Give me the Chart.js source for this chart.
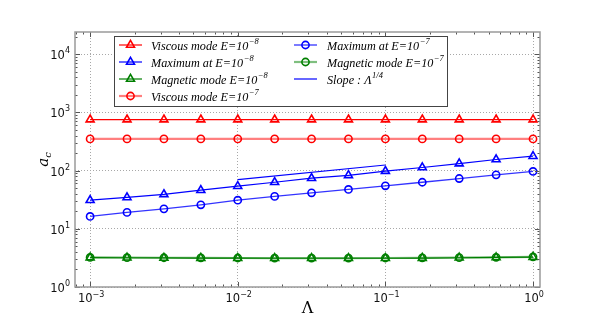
<!DOCTYPE html>
<html><head><meta charset="utf-8">
<script src="https://cdn.jsdelivr.net/npm/chart.js@4/dist/chart.umd.min.js"></script>
<style>html,body{margin:0;padding:0;background:#fff}</style>
</head><body>
<canvas id="c" width="600" height="320"></canvas>
<script>
// ---- data ----
const lambdaValues = [0.001, 0.001778, 0.003162, 0.005623, 0.01, 0.01778, 0.03162, 0.05623, 0.1, 0.1778, 0.3162, 0.5623, 1.0];
const viscousE8  = [750, 750, 750, 750, 750, 750, 750, 750, 750, 750, 750, 750, 750];
const maximumE8  = [31, 34.6, 39, 46, 54, 63, 74, 83, 98, 113, 132, 155, 177];
const magneticE8 = [3.2, 3.18, 3.16, 3.14, 3.13, 3.12, 3.12, 3.12, 3.12, 3.14, 3.18, 3.22, 3.27];
const viscousE7  = [350, 350, 350, 350, 350, 350, 350, 350, 350, 350, 350, 350, 350];
const maximumE7  = [16.3, 19.1, 22, 25.8, 31, 36, 41.5, 47.4, 54.7, 63, 73, 84.4, 96.6];
const magneticE7 = [3.22, 3.2, 3.18, 3.16, 3.15, 3.14, 3.14, 3.14, 3.15, 3.17, 3.2, 3.24, 3.3];
const slopeX = [0.01, 0.1];
const slopeY = [70, 124.5];
const xTickValues = [0.001, 0.01, 0.1, 1];
const xTickExps = ["−3", "−2", "−1", "0"];
const yTickValues = [1, 10, 100, 1000, 10000];
const yTickExps = ["0", "1", "2", "3", "4"];
const legendTexts = ["Viscous mode E=10", "Maximum at E=10", "Magnetic mode E=10", "Viscous mode E=10", "Maximum at E=10", "Magnetic mode E=10", "Slope : Λ"];
const legendExps = ["−8", "−8", "−8", "−7", "−7", "−7", "1/4"];
const xTitle = "Λ";
const yTitleMain = "a";
const yTitleSub = "c";

const sup = {"−":"⁻","0":"⁰","1":"¹","2":"²","3":"³","4":"⁴","7":"⁷","8":"⁸","/":"ᐟ"};
const toSup = s => s.split("").map(c => sup[c] || c).join("");

function pts(xs, ys){ return xs.map((x,i)=>({x:x, y:ys[i]})); }

function ds(label, data, line, marker, style, lw){
  return {label, data, borderColor: line, borderWidth: lw, pointBorderColor: marker,
    pointBackgroundColor: 'rgba(0,0,0,0)', pointStyle: style, pointRadius: style ? (style==='triangle'?4.6:3.6) : 0,
    pointBorderWidth: 1.6, pointHoverRadius: 0, tension: 0, fill: false};
}

const datasets = [
  ds(legendTexts[0]+toSup(legendExps[0]), pts(lambdaValues, viscousE8), '#ff0000', '#ff0000', 'triangle', 1.2),
  ds(legendTexts[1]+toSup(legendExps[1]), pts(lambdaValues, maximumE8), '#0000ff', '#0000ff', 'triangle', 1.2),
  ds(legendTexts[2]+toSup(legendExps[2]), pts(lambdaValues, magneticE8), '#007f00', '#007f00', 'triangle', 1.2),
  ds(legendTexts[3]+toSup(legendExps[3]), pts(lambdaValues, viscousE7), 'rgba(255,0,0,0.5)', '#ff0000', 'circle', 2.2),
  ds(legendTexts[4]+toSup(legendExps[4]), pts(lambdaValues, maximumE7), 'rgba(0,0,255,0.8)', '#0000ff', 'circle', 1.3),
  ds(legendTexts[5]+toSup(legendExps[5]), pts(lambdaValues, magneticE7), 'rgba(0,127,0,0.5)', '#007f00', 'circle', 2.2),
  ds(legendTexts[6]+toSup(legendExps[6]), pts(slopeX, slopeY), '#0000ff', '#0000ff', false, 1.2)
];

function drawMarker(ctx, style, x, y, color){
  ctx.save(); ctx.strokeStyle = color; ctx.lineWidth = 1.6; ctx.beginPath();
  if (style === 'triangle'){
    const r = 4.6;
    for (let k=0;k<3;k++){ const a = -Math.PI/2 + k*2*Math.PI/3; const px = x + r*Math.cos(a), py = y + r*Math.sin(a); k?ctx.lineTo(px,py):ctx.moveTo(px,py); }
    ctx.closePath();
  } else { ctx.arc(x, y, 3.6, 0, Math.PI*2); }
  ctx.stroke(); ctx.restore();
}

const decor = {
  id: 'decor',
  afterDatasetsDraw(chart){
    const ctx = chart.ctx, a = chart.chartArea, xs = chart.scales.x, ys = chart.scales.y;
    ctx.save();
    // inward ticks
    ctx.strokeStyle = '#555'; ctx.lineWidth = 1;
    const xmin = xs.min, xmax = xs.max, ymin = ys.min, ymax = ys.max;
    for (let e=-4; e<=1; e++){
      for (let m=1; m<=9; m++){
        const v = m*Math.pow(10,e);
        if (v >= xmin && v <= xmax){
          const px = Math.round(xs.getPixelForValue(v))+0.5, L = m===1?5:2.5;
          ctx.beginPath(); ctx.moveTo(px,a.bottom); ctx.lineTo(px,a.bottom-L); ctx.moveTo(px,a.top); ctx.lineTo(px,a.top+L); ctx.stroke();
        }
      }
    }
    for (let e=0; e<=5; e++){
      for (let m=1; m<=9; m++){
        const v = m*Math.pow(10,e);
        if (v >= ymin && v <= ymax){
          const py = Math.round(ys.getPixelForValue(v))+0.5, L = m===1?5:2.5;
          ctx.beginPath(); ctx.moveTo(a.left,py); ctx.lineTo(a.left+L,py); ctx.moveTo(a.right,py); ctx.lineTo(a.right-L,py); ctx.stroke();
        }
      }
    }
    // frame
    ctx.strokeStyle = '#9a9a9a'; ctx.lineWidth = 1.5;
    ctx.strokeRect(a.left, a.top, a.right-a.left, a.bottom-a.top);

    // tick labels with superscripts
    ctx.fillStyle = '#111';
    const fMain = '11.5px "DejaVu Sans"', fSup = '8px "DejaVu Sans"';
    xTickValues.forEach((v,i)=>{
      const px = xs.getPixelForValue(v);
      ctx.font = fMain; const w1 = ctx.measureText("10").width;
      ctx.font = fSup; const w2 = ctx.measureText(xTickExps[i]).width;
      const x0 = px - (w1+w2)/2 + 1;
      ctx.textBaseline = 'alphabetic'; ctx.textAlign = 'left';
      ctx.font = fMain; ctx.fillText("10", x0, a.bottom + 15);
      ctx.font = fSup; ctx.fillText(xTickExps[i], x0 + w1, a.bottom + 10);
    });
    yTickValues.forEach((v,i)=>{
      const py = ys.getPixelForValue(v);
      ctx.font = fSup; const w2 = ctx.measureText(yTickExps[i]).width;
      ctx.font = fMain; const w1 = ctx.measureText("10").width;
      const xr = a.left - 5;
      ctx.textAlign = 'left'; ctx.textBaseline = 'alphabetic';
      ctx.font = fMain; ctx.fillText("10", xr - w2 - w1, py + 5);
      ctx.font = fSup; ctx.fillText(yTickExps[i], xr - w2, py - 1);
    });

    // axis titles
    ctx.fillStyle = '#000';
    ctx.font = '16px "DejaVu Serif"'; ctx.textAlign = 'center'; ctx.textBaseline = 'middle';
    ctx.fillText(xTitle, (a.left+a.right)/2, 309);
    ctx.save(); ctx.translate(45, (a.top+a.bottom)/2); ctx.rotate(-Math.PI/2);
    ctx.font = 'italic 15px "DejaVu Serif"'; ctx.textAlign = 'left';
    const wa = ctx.measureText(yTitleMain).width; ctx.font = 'italic 10px "DejaVu Serif"'; const wc = ctx.measureText(yTitleSub).width;
    ctx.font = 'italic 15px "DejaVu Serif"'; ctx.fillText(yTitleMain, -(wa+wc)/2, -1);
    ctx.font = 'italic 10px "DejaVu Serif"'; ctx.fillText(yTitleSub, -(wa+wc)/2 + wa, 3);
    ctx.restore();

    // legend box
    const bx = 114, by = 36, bw = 333, bh = 70;
    ctx.fillStyle = '#fff'; ctx.fillRect(bx, by, bw, bh);
    ctx.strokeStyle = '#444'; ctx.lineWidth = 1; ctx.strokeRect(bx+0.5, by+0.5, bw, bh);
    const cols = [{lx:119, tx:151}, {lx:294, tx:327}];
    const rowY = [45, 62, 79, 96];
    const fT = 'italic 12.2px "Liberation Serif"', fE = 'italic 8.5px "Liberation Serif"';
    chart.data.datasets.forEach((d,i)=>{
      const col = i<4 ? cols[0] : cols[1];
      const y = i<4 ? rowY[i] : rowY[i-4];
      ctx.strokeStyle = d.borderColor; ctx.lineWidth = d.borderWidth;
      ctx.beginPath(); ctx.moveTo(col.lx, y); ctx.lineTo(col.lx+23, y); ctx.stroke();
      if (d.pointStyle) drawMarker(ctx, d.pointStyle, col.lx+11.5, y, d.pointBorderColor);
      ctx.fillStyle = '#000'; ctx.textAlign = 'left'; ctx.textBaseline = 'alphabetic';
      ctx.font = fT; ctx.fillText(legendTexts[i], col.tx, y + 4.5);
      const w = ctx.measureText(legendTexts[i]).width;
      ctx.font = fE; ctx.fillText(legendExps[i], col.tx + w + 0.5, y - 1.5);
    });
    ctx.restore();
  }
};

new Chart(document.getElementById('c'), {
  type: 'line',
  data: { datasets },
  options: {
    responsive: false, animation: false, devicePixelRatio: 1,
    layout: { padding: { left: 0, right: 60, top: 32, bottom: 0 } },
    plugins: { legend: { display: false }, tooltip: { enabled: false } },
    scales: {
      x: { type: 'logarithmic', min: 0.00079, max: 1.115,
        afterBuildTicks: s => { s.ticks = xTickValues.map(v => ({value: v})); },
        afterFit: s => { s.height = 33; },
        ticks: { display: false },
        grid: { color: '#a8a8a8', lineWidth: 1, drawTicks: false },
        border: { display: false, dash: [1, 2] } },
      y: { type: 'logarithmic', min: 1, max: 24000,
        afterBuildTicks: s => { s.ticks = yTickValues.map(v => ({value: v})); },
        afterFit: s => { s.width = 75; },
        ticks: { display: false },
        grid: { color: '#a8a8a8', lineWidth: 1, drawTicks: false },
        border: { display: false, dash: [1, 2] } }
    }
  },
  plugins: [decor]
});
</script>
</body></html>
